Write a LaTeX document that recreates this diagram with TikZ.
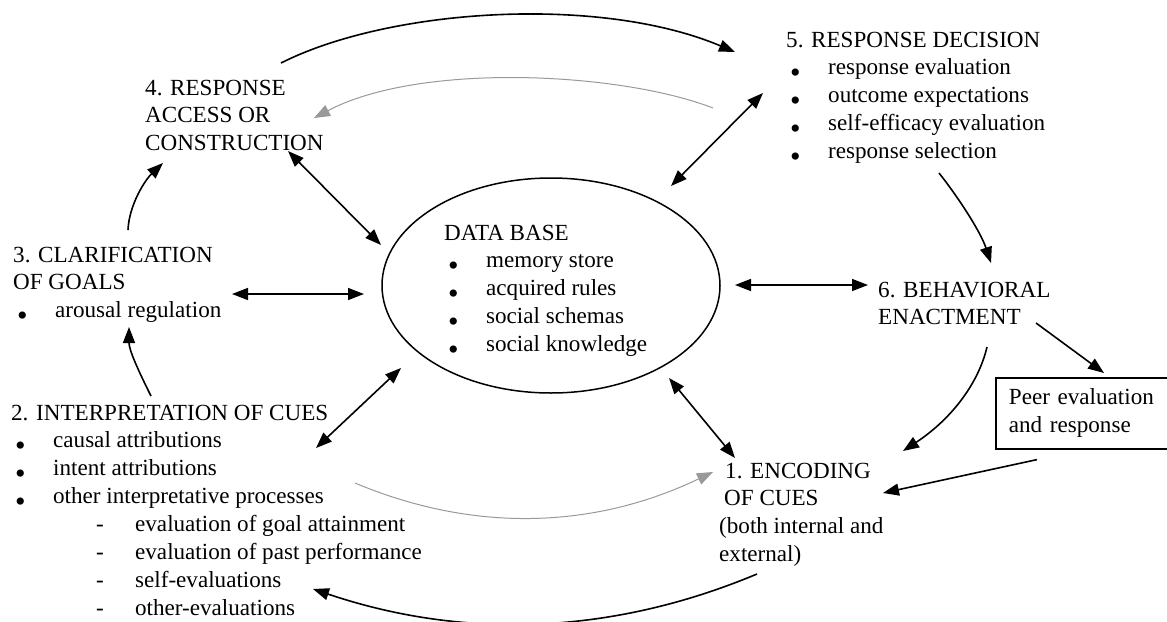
\documentclass[tikz,border=0pt]{standalone}
\usepackage{fontspec}
\setmainfont{Liberation Serif}
\usetikzlibrary{arrows.meta}
\usetikzlibrary{shapes.geometric}
\definecolor{arcgray}{gray}{0.6}
\newcommand{\block}[1]{\begin{tabular}[t]{@{}l@{}}#1\end{tabular}}
\newcommand{\itm}{\hspace*{4pt}\makebox[38pt][l]{\raisebox{-7.5pt}{\scalebox{1.3}{\textbullet}}}}
\newcommand{\subitm}{\hspace*{85pt}\makebox[39pt][l]{-}}

\begin{document}
\begin{tikzpicture}[x=1pt,y=-1pt,>={Triangle[length=16pt,width=12pt]},
  every node/.style={inner sep=0pt,font=\fontsize{23.1}{27.9}\selectfont},
  txt/.style={anchor=base west},
  link/.style={line width=1.6pt},
  back/.style={arcgray,line width=1pt}]
\useasboundingbox (0,0) rectangle (1167,621);

% the six steps and the data base
\node[txt] (acc) at (145,95) {\block{4. RESPONSE\\ACCESS OR\\CONSTRUCTION}};
\node[txt] (dec) at (786,47) {\block{5. RESPONSE DECISION\\\itm response evaluation\\\itm outcome expectations\\\itm self-efficacy evaluation\\\itm response selection}};
\node[txt] (goal) at (13,262) {\block{3. CLARIFICATION\\OF GOALS\\\itm arousal regulation}};
\node[txt] (interp) at (11,420) {\block{2. INTERPRETATION OF CUES\\\itm causal attributions\\\itm intent attributions\\\itm other interpretative processes\\\subitm evaluation of goal attainment\\\subitm evaluation of past performance\\\subitm self-evaluations\\\subitm other-evaluations}};
\node[draw,ellipse,line width=1.5pt,minimum width=338pt,minimum height=215pt] (db) at (551,285.5) {};
\node[txt] (dbtext) at (444,240) {\block{DATA BASE\\\itm memory store\\\itm acquired rules\\\itm social schemas\\\itm social knowledge}};
\node[txt] (act) at (878,297) {\block{6. BEHAVIORAL\\ENACTMENT}};
\node[txt] (enc) at (719,478) {\block{\hspace*{6pt}1. ENCODING\\\hspace*{5pt}OF CUES\\(both internal and\\external)}};
\node[draw,line width=1.8pt,anchor=north west,inner xsep=13pt,inner ysep=7.5pt,text width=150pt] (peer) at (995,377) {\block{Peer evaluation\\and response}};

% outer loop
\draw[link,->] ([shift={(136,-32)}]acc.base west) .. controls +(109,-55) and +(-135,-57) .. ([shift={(-51,5)}]dec.base west);
\draw[back,->] ([shift={(-73,61)}]dec.base west) .. controls +(-93,-36) and +(106,-56) .. ([shift={(169,23)}]acc.base west);
\draw[link,->] ([shift={(115,-32)}]goal.base west) .. controls +(1,-25) and +(-18,17) .. ([shift={(18,68)}]acc.base west);
\draw[link,->] ([shift={(140,-24)}]interp.base west) .. controls +(-13,-26) and +(0,23) .. ([shift={(116,65)}]goal.base west);
\draw[back,->] ([shift={(344,63)}]interp.base west) .. controls +(119,50) and +(-119,57) .. ([shift={(-6,-6)}]enc.base west);
\draw[link,->] ([shift={(153,126)}]dec.base west) .. controls +(16,20) and +(-11,-33) .. ([shift={(113,-34)}]act.base west);
\draw[link,->] ([shift={(109,50)}]act.base west) .. controls +(-9,38) and +(47,-31) .. ([shift={(184,-27)}]enc.base west);
\draw[link,->] ([shift={(38,96)}]enc.base west) .. controls +(-148,62) and +(148,50) .. ([shift={(302,169)}]interp.base west);
\draw[link,->] ([shift={(158,26)}]act.base west) -- ([shift={(109,-4)}]peer.north west);
\draw[link,->] ([shift={(42,10)}]peer.south west) -- ([shift={(164,15)}]enc.base west);

% links to the data base
\draw[link,<->] ([shift={(143,56)}]acc.base west) -- ([shift={(-170,-40.5)}]db.center);
\draw[link,<->] ([shift={(219,32)}]goal.base west) -- ([shift={(-187,8.5)}]db.center);
\draw[link,<->] ([shift={(305,28)}]interp.base west) -- ([shift={(-150,82.5)}]db.center);
\draw[link,<->] ([shift={(-23,46)}]dec.base west) -- ([shift={(120,-99.5)}]db.center);
\draw[link,<->] ([shift={(184,-0.5)}]db.center) -- ([shift={(-10,-12)}]act.base west);
\draw[link,<->] ([shift={(118,92.5)}]db.center) -- ([shift={(16,-20)}]enc.base west);
\end{tikzpicture}
\end{document}
